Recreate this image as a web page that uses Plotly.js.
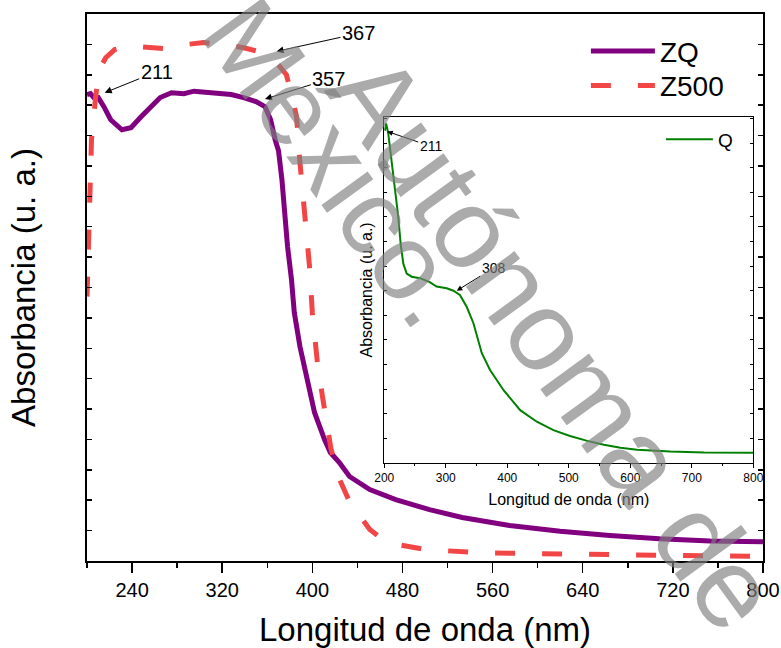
<!DOCTYPE html>
<html>
<head>
<meta charset="utf-8">
<script src="https://cdn.plot.ly/plotly-3.0.1.min.js"></script>
<style>html,body{margin:0;padding:0;background:#fff;}</style>
</head>
<body>
<div id="chart" style="width:781px;height:648px;"></div>
<script>
// ---- Data ----
const zqWavelength = [200, 203, 206, 210, 215, 221, 231, 239, 248, 257, 265, 275, 286, 295, 304, 315, 328, 339, 350, 358, 363, 367, 370, 373, 375, 378, 381.5, 384, 389, 395, 402, 411, 416, 424, 433, 451, 474, 504, 533, 575, 620, 664, 708, 753, 800];
const zqAbs = [1.535, 1.538, 1.525, 1.525, 1.495, 1.452, 1.419, 1.426, 1.462, 1.495, 1.525, 1.541, 1.538, 1.546, 1.542, 1.541, 1.535, 1.525, 1.512, 1.495, 1.452, 1.386, 1.35, 1.255, 1.146, 1.035, 0.926, 0.817, 0.706, 0.597, 0.488, 0.398, 0.357, 0.324, 0.278, 0.235, 0.202, 0.169, 0.143, 0.117, 0.098, 0.084, 0.073, 0.066, 0.063];

const z500Wavelength = [200, 201.5, 203, 204, 207.7, 211, 216.6, 224.6, 237, 251, 268, 286.6, 303.5, 322, 339, 353, 363, 370.5, 377, 381.5, 386, 389, 393, 397.5, 400, 404.5, 409, 416.5, 424, 429.5, 433, 451, 459, 466, 500, 548, 600, 650, 700, 750, 800];
const z500Abs = [0.87, 1.058, 1.222, 1.387, 1.528, 1.617, 1.656, 1.683, 1.695, 1.692, 1.686, 1.699, 1.706, 1.699, 1.689, 1.676, 1.656, 1.630, 1.600, 1.535, 1.462, 1.311, 1.146, 0.969, 0.817, 0.653, 0.541, 0.37, 0.27, 0.225, 0.195, 0.104, 0.082, 0.061, 0.038, 0.027, 0.024, 0.022, 0.020, 0.017, 0.015];

const qWavelength = [201, 203, 206.5, 212, 217.4, 222.8, 226.7, 231, 236.5, 244.6, 258, 274, 285, 301.6, 312.4, 323, 334, 345, 358.6, 372, 394, 421, 448, 475, 502, 530, 557, 584, 611, 665, 720, 800];
const qAbs = [1.25, 1.28, 1.24, 1.13, 1.02, 0.90, 0.79, 0.71, 0.67, 0.657, 0.651, 0.635, 0.617, 0.610, 0.600, 0.583, 0.535, 0.468, 0.346, 0.278, 0.196, 0.115, 0.068, 0.034, 0.010, -0.010, -0.026, -0.038, -0.046, -0.053, -0.057, -0.058];

const seriesNames = ['ZQ', 'Z500', 'Q'];
const mainXTicks = [240, 320, 400, 480, 560, 640, 720, 800];
const insetXTicks = [200, 300, 400, 500, 600, 700, 800];

// peak labels: [wavelength, absorbance, label]
const mainPeaks = [[215.7, 1.541, '211'], [357.9, 1.520, '357'], [368.2, 1.677, '367']];
const insetPeaks = [[204.9, 1.247, '211'], [317.9, 0.600, '308']];

const FONT = 'Arial, "Liberation Sans", sans-serif';

const traces = [
  {x: zqWavelength, y: zqAbs, name: seriesNames[0], type: 'scatter', mode: 'lines',
   line: {color: '#800080', width: 5}, xaxis: 'x', yaxis: 'y', legend: 'legend'},
  {x: z500Wavelength, y: z500Abs, name: seriesNames[1], type: 'scatter', mode: 'lines',
   line: {color: '#F24646', width: 5, dash: '20px,27px'}, xaxis: 'x', yaxis: 'y', legend: 'legend3'},
  {x: qWavelength, y: qAbs, name: seriesNames[2], type: 'scatter', mode: 'lines',
   line: {color: '#008000', width: 2}, xaxis: 'x2', yaxis: 'y2', legend: 'legend2'}
];

const annotations = [];
const mainOffsets = [[52, -21], [64, -20], [82, -18]];
mainPeaks.forEach((p, i) => annotations.push({
  x: p[0], y: p[1], xref: 'x', yref: 'y', text: p[2], showarrow: true,
  ax: mainOffsets[i][0], ay: mainOffsets[i][1], arrowhead: 2, arrowsize: 1.4, arrowwidth: 1,
  arrowcolor: '#000', font: {family: FONT, size: 20, color: '#000'}
}));
const insetOffsets = [[44, 15], [37, -23]];
insetPeaks.forEach((p, i) => annotations.push({
  x: p[0], y: p[1], xref: 'x2', yref: 'y2', text: p[2], showarrow: true,
  ax: insetOffsets[i][0], ay: insetOffsets[i][1], arrowhead: 2, arrowsize: 1.1, arrowwidth: 1,
  arrowcolor: '#000', font: {family: FONT, size: 14, color: '#000'}
}));
// watermark
annotations.push({x: 0.692, y: 0.402, xref: 'paper', yref: 'paper', xanchor: 'center', yanchor: 'middle',
  text: 'Autónoma de', showarrow: false, textangle: 54,
  font: {family: FONT, size: 114, color: 'rgba(128,128,128,0.66)'}});
annotations.push({x: 0.3697, y: 0.7283, xref: 'paper', yref: 'paper', xanchor: 'center', yanchor: 'middle',
  text: 'México.', showarrow: false, textangle: 54,
  font: {family: FONT, size: 108, color: 'rgba(128,128,128,0.66)'}});

const legendBase = {xref: 'paper', yref: 'paper', xanchor: 'left', yanchor: 'top',
  bgcolor: 'rgba(0,0,0,0)', borderwidth: 0};

const layout = {
  width: 781, height: 648,
  margin: {l: 87.3, r: 18.3, t: 14.3, b: 86.5},
  paper_bgcolor: '#fff', plot_bgcolor: '#fff',
  font: {family: FONT, color: '#000'},
  showlegend: true,
  xaxis: {
    domain: [0, 1], range: [200, 800], anchor: 'y',
    tickmode: 'array', tickvals: mainXTicks,
    ticks: 'outside', ticklen: 10, tickwidth: 1.5, tickcolor: '#000',
    minor: {tickmode: 'linear', tick0: 200, dtick: 40, ticks: 'outside', ticklen: 5, tickwidth: 1.5, tickcolor: '#000'},
    showline: true, linewidth: 2, linecolor: '#000', mirror: true,
    showgrid: false, zeroline: false,
    tickfont: {family: FONT, size: 20},
    title: {text: 'Longitud de onda (nm)', font: {family: FONT, size: 33}, standoff: 19}
  },
  xaxis3: {
    overlaying: 'x', anchor: 'y', side: 'top', range: [200, 800],
    tickmode: 'linear', tick0: 200, dtick: 40, ticks: 'inside', ticklen: 5, tickwidth: 1.5, tickcolor: '#000',
    showticklabels: false, showline: false, showgrid: false, zeroline: false
  },
  yaxis: {
    domain: [0, 1], range: [0, 1.8], anchor: 'x',
    tickmode: 'linear', tick0: 0, dtick: 0.1,
    ticks: 'inside', ticklen: 5, tickwidth: 1.5, tickcolor: '#000',
    showticklabels: false, showline: true, linewidth: 2, linecolor: '#000', mirror: 'ticks',
    showgrid: false, zeroline: false,
    title: {text: 'Absorbancia (u. a.)', font: {family: FONT, size: 33}, standoff: 39}
  },
  xaxis2: {
    domain: [0.4397, 0.9857], range: [200, 800], anchor: 'y2',
    tickmode: 'array', tickvals: insetXTicks,
    ticks: 'outside', ticklen: 4, tickwidth: 1, tickcolor: '#000',
    minor: {tickmode: 'linear', tick0: 250, dtick: 100, ticks: 'outside', ticklen: 2, tickwidth: 1, tickcolor: '#000'},
    showline: true, linewidth: 1, linecolor: '#000', mirror: true,
    showgrid: false, zeroline: false,
    tickfont: {family: FONT, size: 12},
    title: {text: 'Longitud de onda (nm)', font: {family: FONT, size: 16}, standoff: 9}
  },
  yaxis2: {
    domain: [0.1795, 0.8118], range: [-0.099, 1.306], anchor: 'x2',
    tickmode: 'linear', tick0: 0, dtick: 0.1,
    ticks: 'inside', ticklen: 3, tickwidth: 1, tickcolor: '#000',
    showticklabels: false, showline: true, linewidth: 1, linecolor: '#000', mirror: 'ticks',
    showgrid: false, zeroline: false,
    title: {text: 'Absorbancia (u. a.)', font: {family: FONT, size: 16}, standoff: 6}
  },
  legend: Object.assign({}, legendBase, {x: 0.738, y: 0.9773, itemwidth: 64,
    font: {family: FONT, size: 28, color: '#000'}}),
  legend3: Object.assign({}, legendBase, {x: 0.738, y: 0.9144, itemwidth: 64,
    font: {family: FONT, size: 28, color: '#000'}}),
  legend2: Object.assign({}, legendBase, {x: 0.849, y: 0.8055, itemwidth: 47,
    font: {family: FONT, size: 19, color: '#000'}}),
  annotations: annotations
};

Plotly.newPlot('chart', traces, layout, {staticPlot: true, displayModeBar: false});
</script>
</body>
</html>
